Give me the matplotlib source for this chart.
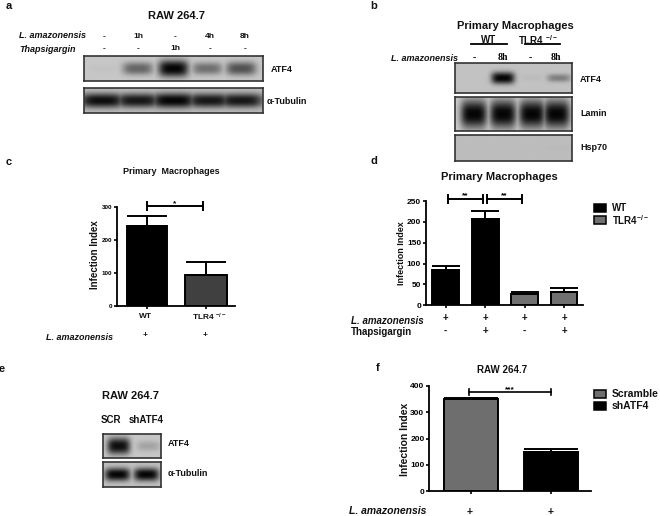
import matplotlib
matplotlib.use("Agg")
from matplotlib import pyplot as plt
import numpy as np

plt.rcParams["font.family"] = ["Liberation Sans", "DejaVu Sans"]
plt.rcParams["mathtext.default"] = "regular"

W, H = 660, 516

# panel c
c_labels = ["WT", "TLR4 $^{-/-}$"]
c_values = [243, 93]
c_errors = [29, 39]
c_ticks = [0, 100, 200, 300]

# panel d
d_values = [85, 207, 26, 33]
d_errors = [9, 19, 5, 8]
d_ticks = [0, 50, 100, 150, 200, 250]
d_amazon = ["+", "+", "+", "+"]
d_thaps = ["-", "+", "-", "+"]

# panel f
f_values = [352, 150]
f_errors = [4, 10]
f_ticks = [0, 100, 200, 300, 400]

# blot band darkness per lane
a_atf4 = [0.02, 0.5, 1.0, 0.45, 0.6]
a_tub = [0.95, 0.9, 1.0, 0.9, 0.9]
b_atf4 = [0.0, 1.0, 0.03, 0.35]
b_lamin = [1.0, 1.0, 1.0, 1.0]
b_hsp = [0.0, 0.0, 0.0, 0.02]
e_atf4 = [0.95, 0.18]
e_tub = [1.0, 1.0]

fig = plt.figure(figsize=(W / 100, H / 100), dpi=100)

# overlay in pixel coordinates for all the loose text
ov = fig.add_axes([0, 0, 1, 1], zorder=5)
ov.set_xlim(0, W)
ov.set_ylim(H, 0)
ov.axis("off")


def px_axes(x0, y0, x1, y1):
    return fig.add_axes([x0 / W, 1 - y1 / H, (x1 - x0) / W, (y1 - y0) / H])


def txt(x, y, s, size=6.5, ha="center", style="normal", weight="bold", **kw):
    ov.text(x, y, s, fontsize=size, ha=ha, va="center", style=style,
            fontweight=weight, color="#111111", **kw)


def blot(box, lanes, amps, sx, sy, bg=0.8, tilt=0.0):
    x0, y0, x1, y1 = box
    ax = px_axes(x0, y0, x1, y1)
    xx, yy = np.meshgrid(np.linspace(0, 1, 200), np.linspace(0, 1, 80))
    dark = np.zeros_like(xx)
    for c, a in zip(lanes, amps):
        g = np.exp(-((np.abs(xx - c) / sx) ** 4) - ((np.abs(yy - 0.5 - tilt * (xx - c)) / (sy * (0.5 + a / 2))) ** 2.4))
        dark = np.maximum(dark, a * g)
    ax.imshow(bg - dark * (bg - 0.02), cmap="gray", vmin=0, vmax=1, aspect="auto", interpolation="bilinear")
    ax.set_xticks([])
    ax.set_yticks([])
    for s in ax.spines.values():
        s.set_linewidth(1.2)
        s.set_color("#333333")
    return ax


def bar_panel(box, ymax, ticks, values, errors, lefts, rights, colors, tick_size, lw=1.4):
    x0, y0, x1, y1 = box
    ax = px_axes(x0, y0, x1, y1)
    ax.set_xlim(x0, x1)
    ax.set_ylim(0, ymax)
    centers = [(a + b) / 2 for a, b in zip(lefts, rights)]
    widths = [b - a for a, b in zip(lefts, rights)]
    ax.bar(centers, values, width=widths, color=colors, edgecolor="black", linewidth=lw)
    ax.errorbar(centers, values, yerr=[[0] * len(values), errors], fmt="none", ecolor="black",
                elinewidth=lw, capsize=widths[0] * 0.36, capthick=lw)
    ax.set_xticks(centers)
    ax.set_xticklabels([])
    ax.set_yticks(ticks)
    ax.tick_params(labelsize=tick_size, width=1.2, length=2.5, pad=1)
    for lab in ax.get_yticklabels():
        lab.set_fontweight("bold")
    ax.spines["top"].set_visible(False)
    ax.spines["right"].set_visible(False)
    ax.spines["left"].set_linewidth(1.3)
    ax.spines["bottom"].set_linewidth(1.3)
    return ax


def bracket(x0, x1, y, cap=4, label="*", lw=1.4):
    ov.plot([x0, x1], [y, y], color="black", lw=lw)
    ov.plot([x0, x0], [y - cap, y + cap], color="black", lw=lw)
    ov.plot([x1, x1], [y - cap, y + cap], color="black", lw=lw)
    ov.text((x0 + x1) / 2, y - 2.5, label, fontsize=6, ha="center", va="center", fontweight="bold")


# panel letters
for x, y, s in [(9, 6, "a"), (374, 6, "b"), (9, 162, "c"), (374, 161, "d"), (2, 369, "e"), (378, 368, "f")]:
    txt(x, y, s, size=8)

# panel a
txt(177, 16, "RAW 264.7", size=8)
txt(19, 36, "L. amazonensis", size=6.5, ha="left", style="italic")
txt(19, 49.5, "Thapsigargin", size=6.5, ha="left", style="italic")
for x, s1, s2 in zip([104, 138, 175, 210, 245], ["-", "1h", "-", "4h", "8h"], ["-", "-", "1h", "-", "-"]):
    txt(x, 36.5, s1, size=6)
    txt(x, 48.5, s2, size=6)
a_lanes = [0.11, 0.3, 0.5, 0.69, 0.88]
blot((84, 56, 263, 81), a_lanes, a_atf4, 0.085, 0.34, bg=0.78)
blot((84, 88, 263, 113), [0.1, 0.3, 0.5, 0.7, 0.88], a_tub, 0.125, 0.3, bg=0.74)
txt(271, 70, "ATF4", size=6.5, ha="left")
txt(267, 101, "α-Tubulin", size=6.5, ha="left")

# panel b
txt(515, 26, "Primary Macrophages", size=8)
txt(489, 40, "WT", size=7)
txt(538, 40, "TLR4 $^{-/-}$", size=7)
ov.plot([471, 507], [44, 44], color="black", lw=1.3)
ov.plot([525, 560], [44, 44], color="black", lw=1.3)
txt(391, 58.5, "L. amazonensis", size=6.5, ha="left", style="italic")
for x, s in zip([474, 503, 530, 556], ["-", "8h", "-", "8h"]):
    ov.text(x, 58, s, fontsize=7, ha="center", va="center", fontweight="bold", family="Liberation Serif")
blot((455, 63, 572, 93), [0.16, 0.41, 0.66, 0.89], b_atf4, 0.1, 0.2, bg=0.76)
blot((455, 97, 572, 131), [0.16, 0.41, 0.66, 0.87], b_lamin, 0.115, 0.42, bg=0.8)
blot((455, 135, 572, 161), [0.16, 0.41, 0.66, 0.89], b_hsp, 0.1, 0.2, bg=0.74)
txt(580, 79, "ATF4", size=6.5, ha="left")
txt(580, 113, "Lamin", size=6.5, ha="left")
txt(580, 148, "Hsp70", size=6.5, ha="left")

# panel c
txt(171, 171, "Primary  Macrophages", size=6.5)
bar_panel((117, 206.7, 235, 306), 300, c_ticks, c_values, c_errors, [127, 185], [167, 227],
          ["black", "#404040"], 4.5)
txt(95, 255, "Infection Index", size=7, rotation=90)
bracket(147, 203, 206, label="*")
txt(145, 316, c_labels[0], size=6)
txt(209, 317, c_labels[1], size=6)
txt(46, 337, "L. amazonensis", size=6.5, ha="left", style="italic")
txt(145, 336, "+", size=6)
txt(205, 336, "+", size=6)

# panel d
txt(499, 177, "Primary Macrophages", size=8)
bar_panel((426, 201, 583, 305.3), 250, d_ticks, d_values, d_errors, [432, 471.7, 511.3, 550.7],
          [459.3, 498.7, 538, 577.3], ["black", "black", "#707070", "#707070"], 6)
txt(401.5, 253, "Infection Index", size=6.5, rotation=90)
bracket(447.5, 483, 198.5, label="**")
bracket(487, 522, 198.5, label="**")
txt(351, 320.5, "L. amazonensis", size=7, ha="left", style="italic")
txt(351, 332, "Thapsigargin", size=7, ha="left")
for x, s1, s2 in zip([445, 485, 524, 564], d_amazon, d_thaps):
    txt(x, 318, s1, size=7)
    txt(x, 331, s2, size=7)
for y, col, s in [(208, "black", "WT"), (220, "#707070", "TLR4$^{-/-}$")]:
    ov.add_patch(plt.Rectangle((594, y - 4), 12, 8, fc=col, ec="black", lw=1.1))
    txt(612, y, s, size=7, ha="left")

# panel e
txt(130, 396, "RAW 264.7", size=8)
txt(111, 420, "SCR", size=7)
txt(146, 420, "shATF4", size=7)
blot((103, 434, 161, 458), [0.27, 0.78], e_atf4, 0.2, 0.36, bg=0.78)
blot((103, 462, 161, 487), [0.25, 0.75], e_tub, 0.22, 0.26, bg=0.76)
txt(168, 444, "ATF4", size=6.5, ha="left")
txt(168, 473, "α-Tubulin", size=6.5, ha="left")

# panel f
txt(502, 370, "RAW 264.7", size=7)
bar_panel((429.3, 386, 590.7, 491.3), 400, f_ticks, f_values, f_errors, [444, 524], [497.7, 578],
          ["#6e6e6e", "black"], 6)
txt(405, 439, "Infection Index", size=7.5, rotation=90)
bracket(469, 551, 392, cap=3, label="***", lw=1.2)
txt(349, 511, "L. amazonensis", size=7.5, ha="left", style="italic")
txt(470, 512, "+", size=7.5)
txt(551, 512, "+", size=7.5)
for y, col, s in [(394, "#6e6e6e", "Scramble"), (406, "black", "shATF4")]:
    ov.add_patch(plt.Rectangle((594, y - 4), 12, 8, fc=col, ec="black", lw=1.1))
    txt(612, y, s, size=7.5, ha="left")

fig.savefig("out.png", dpi=100)
